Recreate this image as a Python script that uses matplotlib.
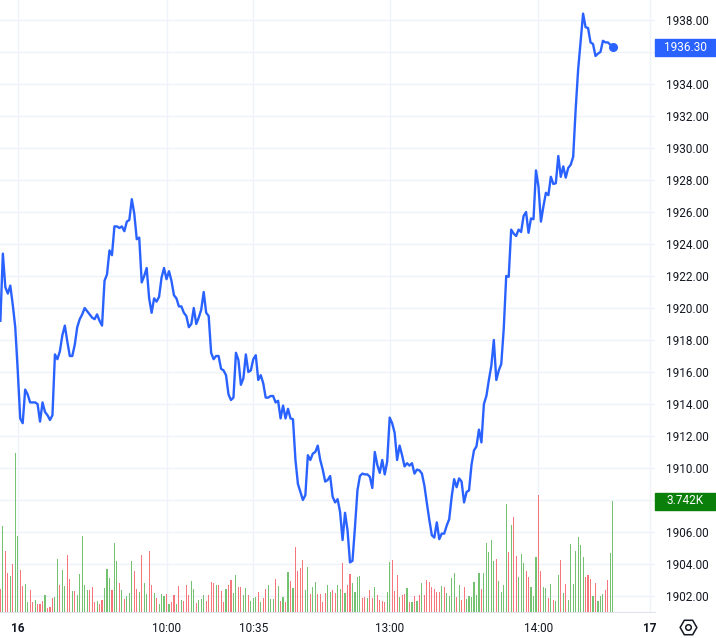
import numpy as np
import matplotlib.pyplot as plt
from matplotlib.patches import Rectangle
from matplotlib.lines import Line2D
import matplotlib.transforms as mtransforms

plt.rcParams['font.family'] = ['Roboto', 'DejaVu Sans']

# one value per 1-minute bar
price = [
    1919.2, 1923.4, 1921.3, 1920.9, 1921.4, 1920.2, 1918.8, 1916.1, 1913.1, 1912.8,
    1914.9, 1914.6, 1914.1, 1914.1, 1914.1, 1914.0, 1912.9, 1914.1, 1913.5, 1913.3,
    1913.0, 1913.3, 1917.1, 1916.8, 1917.3, 1918.3, 1918.9, 1917.9, 1917.0, 1917.0,
    1917.7, 1918.8, 1919.3, 1919.6, 1920.0, 1919.8, 1919.6, 1919.4, 1919.3, 1919.6,
    1919.2, 1918.9, 1921.7, 1922.1, 1923.6, 1923.3, 1925.1, 1925.1, 1925.0, 1925.1,
    1924.8, 1925.4, 1925.5, 1926.8, 1925.9, 1924.3, 1924.4, 1921.6, 1922.0, 1922.5,
    1920.6, 1919.7, 1920.6, 1920.4, 1920.7, 1921.9, 1922.5, 1921.8, 1922.3, 1921.7,
    1920.8, 1920.6, 1920.1, 1920.1, 1919.7, 1919.5, 1918.8, 1919.0, 1920.0, 1919.0,
    1919.4, 1919.9, 1921.0, 1919.7, 1919.5, 1917.2, 1916.8, 1917.0, 1917.0, 1916.2,
    1916.1, 1915.8, 1914.6, 1914.25, 1914.4, 1917.2, 1916.75, 1915.2, 1915.6, 1917.1,
    1916.0, 1916.1, 1916.8, 1917.05, 1915.5, 1915.8, 1915.3, 1914.4, 1914.4, 1914.5,
    1914.5, 1914.1, 1914.2, 1913.1, 1913.9, 1913.1, 1913.7, 1913.1, 1913.05, 1910.5,
    1909.0, 1908.5, 1908.0, 1908.3, 1910.8, 1910.5, 1910.9, 1911.0, 1911.4, 1910.5,
    1909.9, 1909.15, 1909.25, 1909.5, 1908.2, 1907.85, 1908.05, 1907.25, 1905.5, 1907.2,
    1906.1, 1904.1, 1904.2, 1906.3, 1908.6, 1909.5, 1909.65, 1909.6, 1909.6, 1909.45,
    1908.75, 1911.0, 1910.2, 1909.7, 1910.5, 1909.6, 1910.4, 1913.15, 1912.8, 1912.2,
    1910.5, 1911.4, 1910.8, 1910.1, 1910.3, 1910.15, 1910.3, 1909.65, 1909.9, 1909.85,
    1909.65, 1908.9, 1907.8, 1906.75, 1905.8, 1905.65, 1906.6, 1905.55, 1905.9, 1905.9,
    1906.4, 1906.8, 1908.2, 1909.3, 1908.8, 1909.35, 1909.15, 1907.85, 1908.5, 1908.6,
    1910.2, 1911.1, 1911.35, 1912.4, 1911.6, 1914.0, 1914.5, 1915.5, 1916.4, 1918.0,
    1915.5, 1916.1, 1916.5, 1918.7, 1922.0, 1921.95, 1924.9, 1924.65, 1924.5, 1924.9,
    1924.75, 1925.75, 1926.0, 1924.7, 1925.6, 1925.55, 1928.6, 1927.6, 1925.4, 1926.35,
    1927.2, 1927.05, 1928.2, 1927.75, 1927.8, 1929.5, 1928.2, 1928.85, 1928.15, 1928.75,
    1928.95, 1929.45, 1932.4, 1934.9, 1936.65, 1938.4, 1937.55, 1937.5, 1936.6, 1936.5,
    1935.75, 1935.9, 1936.0, 1936.7, 1936.6, 1936.6, 1936.45, 1936.3,
]

volume = [
    775, 2900, 2056, 1314, 1213, 1617, 5370, 2561, 1415, 876,
    944, 337, 741, 337, 404, 270, 270, 370, 573, 135,
    168, 472, 517, 1786, 910, 1415, 876, 1921, 1112, 708,
    708, 573, 1280, 2561, 910, 741, 741, 842, 337, 370,
    270, 404, 808, 1449, 1146, 741, 2325, 1719, 977, 741,
    438, 539, 640, 1719, 1382, 775, 674, 1921, 977, 607,
    2056, 910, 640, 472, 270,
    607, 539, 607, 270, 337, 573, 270, 876, 404, 370,
    910, 573, 1045, 775, 303, 404, 438, 573, 370, 573,
    1011, 977, 910, 910, 708, 337, 775, 910, 1078, 640,
    1247, 842, 842, 573, 808, 573, 370, 472, 505, 674,
    337, 472, 775, 910, 438, 438, 1112, 876, 370, 505,
    337, 1348, 1045, 808, 2190, 1382, 1483, 1752, 741, 1516,
    607, 842, 1011,
    607, 607, 337, 640, 910, 674, 741, 640, 910, 775,
    1651, 640, 910, 1280, 977, 674, 1180, 1213, 472, 505,
    472, 741, 472, 842, 573, 404, 370, 337, 674, 1685,
    1752, 708, 1247, 505, 573, 607, 808, 337, 337, 539,
    370, 573, 977, 573, 1078, 1011, 842, 775, 674, 674,
    876, 842, 640, 539, 1146, 1314, 505, 910, 404, 842,
    438, 539,
    505, 1011, 573, 1314, 775, 1314, 2325, 2022, 2426, 1719,
    1786, 1045, 674, 910, 3640, 2022, 2932, 3202, 1887, 1180,
    1955, 1651, 1382, 1180, 842, 539, 1853, 3943, 1382, 842,
    808, 472, 944, 404, 370, 1247, 1752, 640, 944, 404,
    2291, 944, 2056, 2527, 2258, 1853, 1180, 1247, 1112, 539,
    977, 370, 539, 607, 741, 1078, 1988, 3742,
]

# G = up bar, R = down bar
vol_dir = ("RGRRGRGGRRGGRRGRRRGRRRGGRGGRRGRGGGGGRRRGRRGGGRGGRGRGGGRRGRGGRRGRG"
           "GGRGRRGRGRRRGGRGGGRRRRGRRRGRRGGRRGGRGGGRGRRGGGRGRGRGRGRRRRGGRGG"
           "RRRRGGRRGGRGRRGGGGRRGRRGRRRRGGRRRGRRGRGRGRGRRRRRRRGRGGGGRGRRGG"
           "GGGGRGGGGGRGGGGRGRRGGGRRGGGRRGGRGRGGRGRGGGGGGGRRRGRGGGRRGG")

tick_pos = [7, 67, 102, 157, 217, 262]
tick_lab = ['16', '10:00', '10:35', '13:00', '14:00', '17']
price_ticks = np.arange(1902, 1939, 2)
hidden_ticks = [1936, 1908]   # covered by the last-value tags

x = np.arange(len(price))
W, H = 716, 638
text_col = '#131722'
grid_col = '#eff2f8'
blue = '#2962ff'

fig = plt.figure(figsize=(W / 100, H / 100), dpi=100)
rect = [0, 26 / H, 655 / W, 612 / H]
ax = fig.add_axes(rect)      # grid + price scale
axv = fig.add_axes(rect)     # volume
axl = fig.add_axes(rect)     # price line
for a in (axv, axl):
    a.patch.set_visible(False)
    a.set_xticks([])
    a.set_yticks([])
    for s in a.spines.values():
        s.set_visible(False)

ylim = (1901.0, 1939.25)
vmax = 3742 * 612 / 111
for a in (ax, axv, axl):
    a.set_xlim(-0.15, 264.0)
ax.set_ylim(*ylim)
axl.set_ylim(*ylim)
axv.set_ylim(0, vmax)

# grid
for t in tick_pos:
    ax.axvline(t, color=grid_col, lw=1.0, zorder=0)
for p in price_ticks:
    ax.axhline(p, color=grid_col, lw=1.0, zorder=0)

# volume bars
cols = ['#74c172' if c == 'G' else '#f5777b' for c in vol_dir]
axv.bar(x, volume, width=0.45, color=cols, linewidth=0)

# price line
axl.plot(x, price, color=blue, lw=1.7, solid_joinstyle='round')
axl.plot(x[-1], price[-1], 'o', color=blue, ms=5.5)

# axes styling
for s in ('top', 'left', 'right'):
    ax.spines[s].set_visible(False)
ax.spines['bottom'].set_color('#e0e3eb')
ax.yaxis.tick_right()
ax.set_yticks(price_ticks, ['' if p in hidden_ticks else f'{p:.2f}' for p in price_ticks])
ax.set_xticks(tick_pos, tick_lab)
ax.tick_params(axis='y', length=0, pad=8, labelsize=8.5, labelcolor=text_col)
ax.tick_params(axis='x', length=0, pad=7, labelsize=8.5, labelcolor=text_col)
for lab in ax.get_xticklabels():
    if lab.get_text() in ('16', '17'):
        lab.set_fontweight('bold')

# last price tag
tr = mtransforms.blended_transform_factory(ax.transAxes, axl.transData)
bw = 61 / 655
ax.add_patch(Rectangle((1.0, price[-1] - 8.5 / 16), bw, 17 / 16, transform=tr,
                       color=blue, clip_on=False, zorder=5))
ax.text(1.0 + bw / 2, price[-1], f'{price[-1]:.2f}', transform=tr, color='white',
        ha='center', va='center', fontsize=8.5, zorder=6, clip_on=False)

# last volume tag
trv = mtransforms.blended_transform_factory(axv.transAxes, axv.transData)
hv = 17 * vmax / 612
axv.add_patch(Rectangle((1.0, volume[-1] - hv / 2), bw, hv, transform=trv,
                        color='#0a800a', clip_on=False, zorder=5))
axv.text(1.0 + bw / 2, volume[-1], f'{volume[-1] / 1000:.3f}K', transform=trv,
         color='white', ha='center', va='center', fontsize=8.5, zorder=6, clip_on=False)

# settings icon
fig.add_artist(Line2D([688 / W], [1 - 627 / H], marker='H', ms=12, mfc='none',
                      mec=text_col, mew=1.1, transform=fig.transFigure))
fig.add_artist(Line2D([688 / W], [1 - 627 / H], marker='o', ms=4, mfc='none',
                      mec=text_col, mew=1.1, transform=fig.transFigure))

fig.savefig('out.png', dpi=100, facecolor='white')
